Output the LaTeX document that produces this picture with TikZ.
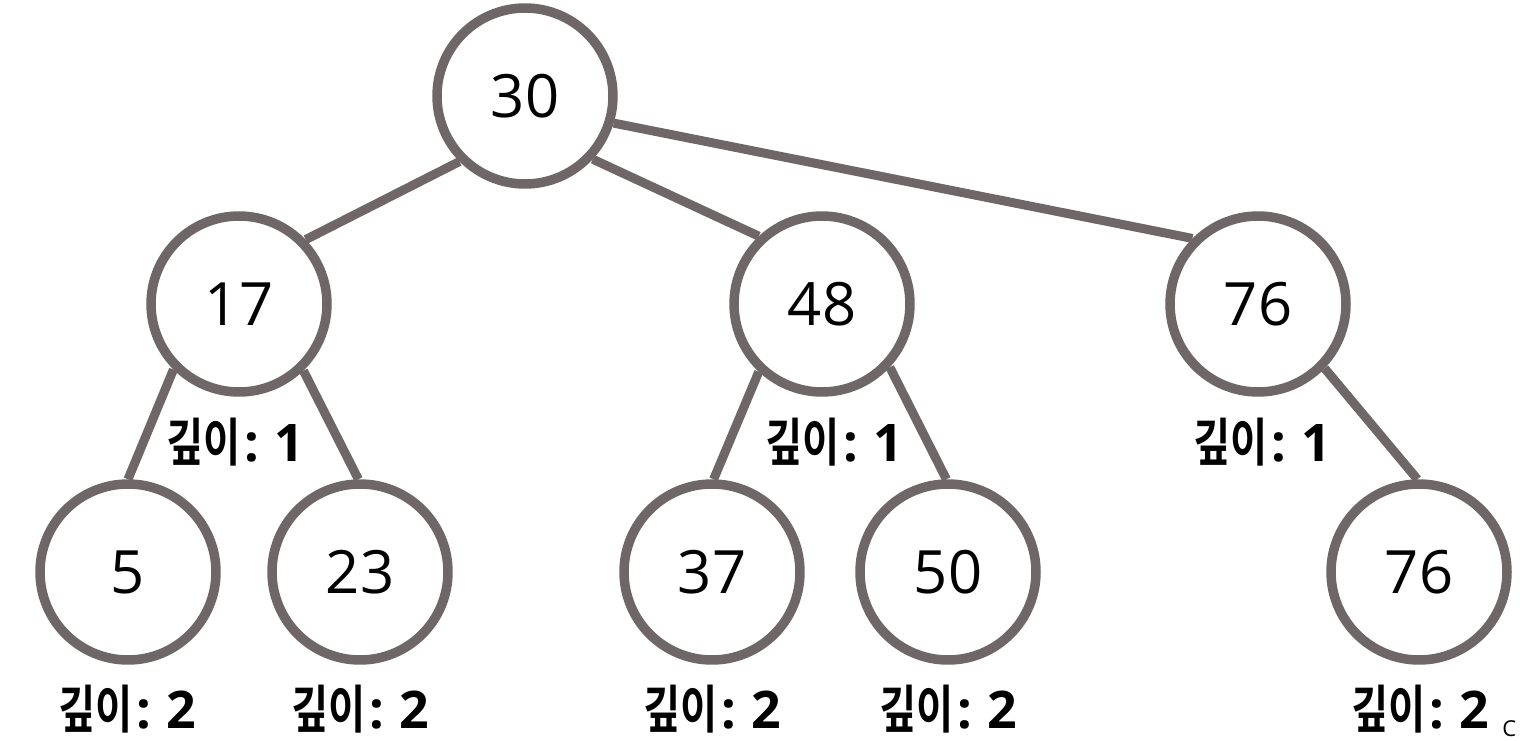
\documentclass[tikz,border=0pt]{standalone}
\usepackage{fontspec}
\setmainfont{Open Sans}
\newfontfamily\hangulfont[FakeStretch=0.78,BoldFont={* Bold}]{Noto Sans CJK KR}
\newfontfamily\latbold{Open Sans Bold}
\definecolor{edgegray}{HTML}{6F6767}
\tikzset{
  treenode/.style={circle, draw=edgegray, line width=0.19cm, minimum size=3.52cm, inner sep=0pt, font=\fontsize{34}{40}\selectfont},
  treeedge/.style={draw=edgegray, line width=0.18cm},
  depthlabel/.style={inner sep=0pt, font=\fontsize{29.5}{34}\selectfont}
}
\newcommand{\depthtext}[1]{{\hangulfont\bfseries 깊이}{\latbold\hspace{0.08em}:\hspace{0.28em}#1}}
\begin{document}
\begin{tikzpicture}[x=0.02cm,y=-0.02cm]
\useasboundingbox (0,0) rectangle (1520,740);
\node[treenode] (n30) at (525,96) {30};
\node[treenode] (n17) at (239,304) {17};
\node[treenode] (n48) at (822,304) {48};
\node[treenode] (n76) at (1258,304) {76};
\node[treenode] (n5) at (128,572) {5};
\node[treenode] (n23) at (360,572) {23};
\node[treenode] (n37) at (712,572) {37};
\node[treenode] (n50) at (948,572) {50};
\node[treenode] (n76b) at (1419,572) {76};
\draw[treeedge] (n30.225) -- (n17.44);
\draw[treeedge] (n30.317) -- (n48.133);
\draw[treeedge] (n30.343) -- (n76.135);
\draw[treeedge] (n17.225) -- (n5.90);
\draw[treeedge] (n17.314) -- (n23.91);
\draw[treeedge] (n48.227) -- (n37.89);
\draw[treeedge] (n48.317) -- (n50.91);
\draw[treeedge] (n76.316) -- (n76b.91);
\node[depthlabel] (d17) at (235,442) {\depthtext{1}};
\node[depthlabel] (d48) at (834,442) {\depthtext{1}};
\node[depthlabel] (d76) at (1262,442) {\depthtext{1}};
\node[depthlabel] (d5) at (127,709) {\depthtext{2}};
\node[depthlabel] (d23) at (360,709) {\depthtext{2}};
\node[depthlabel] (d37) at (712,709) {\depthtext{2}};
\node[depthlabel] (d50) at (948,709) {\depthtext{2}};
\node[depthlabel] (d76b) at (1420,709) {\depthtext{2}};
\node[anchor=north west, inner sep=0pt, font=\fontsize{12.5}{14}\selectfont] (copy) at (1502,720) {C};
\end{tikzpicture}
\end{document}
